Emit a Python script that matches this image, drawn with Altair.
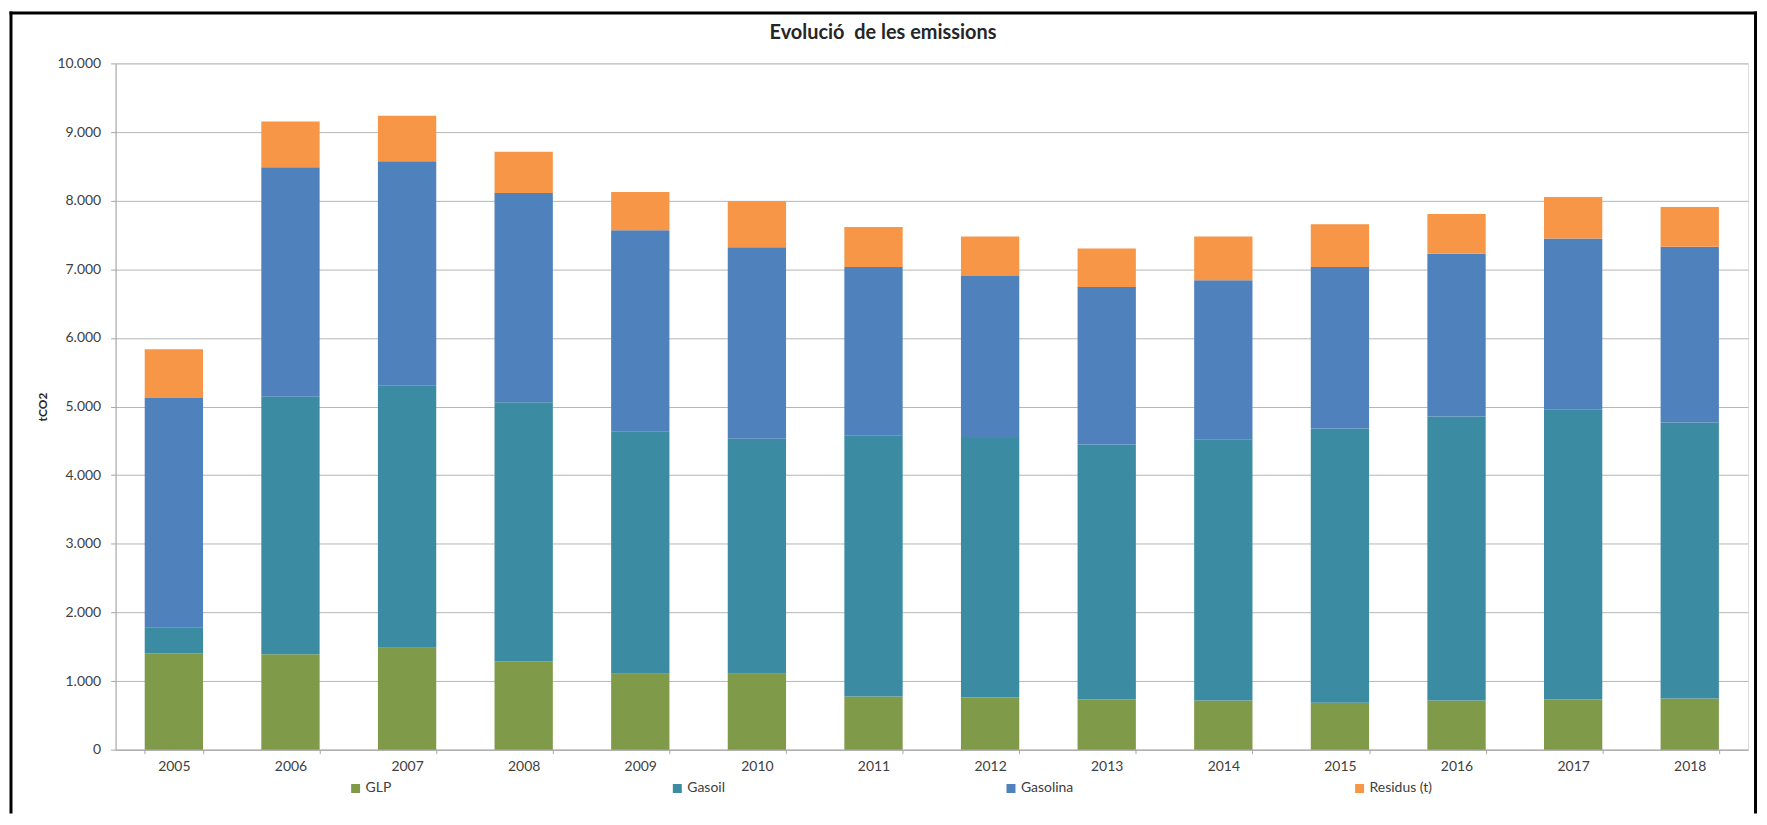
import altair as alt
import pandas as pd

years = ["2005", "2006", "2007", "2008", "2009", "2010", "2011",
         "2012", "2013", "2014", "2015", "2016", "2017", "2018"]
series = ["GLP", "Gasoil", "Gasolina", "Residus (t)"]
colors = ["#7F9A48", "#3B8BA2", "#4F81BD", "#F79646"]

glp      = [1404, 1389, 1486, 1288, 1106, 1106, 774, 760, 731, 716, 683, 716, 731, 745]
gasoil   = [380, 3755, 3817, 3775, 3533, 3423, 3808, 3783, 3716, 3808, 3995, 4140, 4221, 4024]
gasolina = [3341, 3341, 3270, 3049, 2929, 2791, 2452, 2360, 2296, 2316, 2356, 2372, 2495, 2561]
residus  = [711, 670, 665, 602, 558, 675, 583, 573, 558, 636, 621, 578, 606, 578]

y_ticks = [0, 1000, 2000, 3000, 4000, 5000, 6000, 7000, 8000, 9000, 10000]

rows = []
for i, y in enumerate(years):
    for k, (name, vals) in enumerate(zip(series, [glp, gasoil, gasolina, residus])):
        rows.append({"any": y, "serie": name, "valor": vals[i], "ordre": k})
df = pd.DataFrame(rows)

FONT = "Lato"
W, H = 1639, 689

bars = alt.Chart(df).mark_bar().encode(
    x=alt.X("any:N", sort=years,
            scale=alt.Scale(paddingInner=0.5, paddingOuter=0.25),
            axis=alt.Axis(title=None, labelAngle=0, labelFontSize=14, labelFont=FONT,
                          labelColor="#404040", tickBand="extent", tickSize=4,
                          tickColor="#A6A6A6", domainColor="#A6A6A6", labelPadding=6,
                          grid=False)),
    y=alt.Y("sum(valor):Q", stack="zero",
            scale=alt.Scale(domain=[0, 10000], nice=False),
            axis=alt.Axis(values=y_ticks, title="tCO2", titleFont=FONT, titleFontSize=12,
                          titleFontWeight="bold", titleColor="#262626", titleAngle=-90,
                          titleX=-73, titleY=H / 2, titleAlign="center", titleBaseline="middle",
                          labelExpr="replace(format(datum.value, ','), ',', '.')",
                          labelFontSize=14, labelFont=FONT, labelColor="#404040",
                          tickSize=5, tickColor="#A6A6A6", labelPadding=10,
                          domainColor="#A6A6A6", gridColor="#B5B5B5", gridWidth=1)),
    color=alt.Color("serie:N", sort=series,
                    scale=alt.Scale(domain=series, range=colors),
                    legend=alt.Legend(title=None, orient="none", legendX=234, legendY=721,
                                      direction="horizontal", columns=4, columnPadding=280,
                                      symbolType="square", symbolSize=81, symbolStrokeWidth=0,
                                      labelFont=FONT, labelFontSize=14, labelColor="#404040",
                                      labelOffset=3, gridAlign="none")),
    order=alt.Order("ordre:Q", sort="ascending"),
)

frame_data = alt.Data(values=[{"k": 1}])
top = alt.Chart(frame_data).mark_rule(color="black", strokeWidth=3).encode(
    x=alt.value(-106.5), x2=alt.value(1648), y=alt.value(-50.5))
left = alt.Chart(frame_data).mark_rule(color="black", strokeWidth=3).encode(
    x=alt.value(-105), y=alt.value(-52), y2=alt.value(753))
right = alt.Chart(frame_data).mark_rule(color="black", strokeWidth=3).encode(
    x=alt.value(1646.5), y=alt.value(-52), y2=alt.value(753))

chart = alt.layer(bars, top, left, right).properties(
    width=W, height=H,
    padding=0,
    title=alt.Title("Evolució\u00a0 de les emissions", font=FONT, fontSize=20, fontWeight="bold",
                    color="#262626", anchor="middle", frame="group", dx=-49, offset=-33.5),
).configure_view(stroke=None).configure(background="white")

chart.save("out.html", embed_options={"renderer": "svg", "actions": False})
